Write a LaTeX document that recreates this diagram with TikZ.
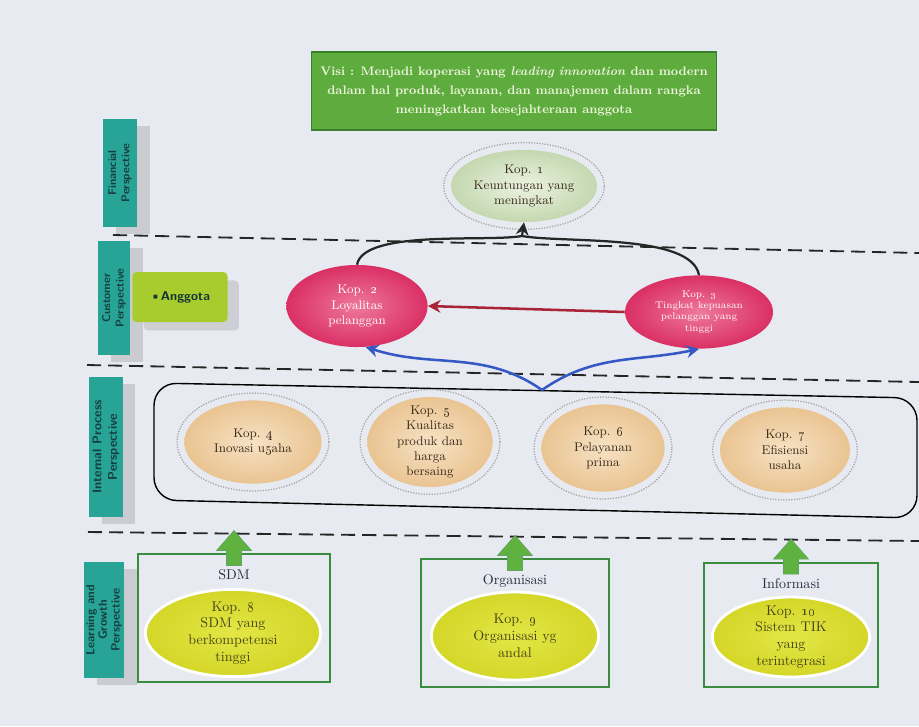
\documentclass[tikz,border=0pt]{standalone}
\usepackage{tikz}
\usetikzlibrary{arrows.meta,positioning,shapes.geometric,shadows,calc}

\definecolor{paper}{RGB}{231,234,241}
\definecolor{visigreen}{RGB}{94,172,62}
\definecolor{visiedge}{RGB}{58,128,42}
\definecolor{visitext}{RGB}{240,246,222}
\definecolor{persteal}{RGB}{40,164,150}
\definecolor{persdark}{RGB}{22,62,64}
\definecolor{anggreen}{RGB}{168,204,46}
\definecolor{boxgreen}{RGB}{58,140,62}
\definecolor{arrowgreen}{RGB}{96,178,64}
\definecolor{linkred}{RGB}{170,36,56}
\definecolor{linkblue}{RGB}{52,88,196}
\definecolor{kopdark}{RGB}{60,44,28}

\tikzset{
  persp/.style={fill=persteal, text=persdark, font=\sffamily\bfseries\footnotesize, align=center,
    rotate=90, inner sep=1pt, drop shadow={shadow xshift=9pt, shadow yshift=-5pt, fill=black!50, opacity=.28}},
  kop/.style={ellipse, inner sep=0pt, align=center, font=\small, text=kopdark},
  kopgreen/.style={kop, inner color={rgb,255:red,236;green,242;blue,226}, outer color={rgb,255:red,196;green,216;blue,176}},
  koppink/.style={kop, text=white, inner color={rgb,255:red,238;green,120;blue,158}, outer color={rgb,255:red,218;green,48;blue,100}},
  koppeach/.style={kop, inner color={rgb,255:red,246;green,226;blue,196}, outer color={rgb,255:red,234;green,196;blue,146}},
  kopyellow/.style={kop, font=\normalsize, text={rgb,255:red,70;green,70;blue,24}, inner ysep=-3pt,
    draw=white, line width=2pt, inner color={rgb,255:red,228;green,230;blue,70}, outer color={rgb,255:red,212;green,214;blue,40}},
  halo/.style={draw=black!35, densely dotted, line width=0.9pt},
  sep/.style={dash pattern=on 10pt off 5pt, line width=1.3pt, black!85},
  pillar/.style={draw=boxgreen, line width=1.3pt},
  pillartitle/.style={font=\normalsize, text={rgb,255:red,40;green,46;blue,64}},
  uparrow/.style={fill=arrowgreen, draw=boxgreen!80, line width=0.4pt},
  blk/.style={line width=1.6pt, black!85},
  blu/.style={->, line width=1.8pt, linkblue},
}

\begin{document}
\begin{tikzpicture}[x=0.025cm, y=-0.025cm, >={Stealth[length=9pt,width=9pt]}]
    \useasboundingbox[fill=paper] (0,0) rectangle (919,726);

    % separators between the perspectives
    \draw[sep] (113,235) -- (919,253);
    \draw[sep] (87,365) -- (919,382);
    \draw[sep] (88,532) -- (919,541);

    % perspective labels
    \node[persp, minimum width=2.68cm, minimum height=0.85cm] (fin) at (120,173) {Financial\\Perspective};
    \node[persp, minimum width=2.83cm, minimum height=0.8cm] (cust) at (114,298) {Customer\\Perspective};
    \node[persp, minimum width=3.5cm, minimum height=0.83cm, font=\sffamily\bfseries\small] (intp) at (106,447) {Internal Process\\Perspective};
    \node[persp, minimum width=2.9cm, minimum height=1cm, font=\sffamily\bfseries\fontsize{8.5}{9}\selectfont] (lgp) at (104,620) {Learning and\\Growth\\Perspective};
    \node[fill=anggreen, rounded corners=3pt, minimum width=2.38cm, minimum height=1.25cm,
      font=\sffamily\bfseries\small, text=persdark!80!black,
      drop shadow={shadow xshift=8pt, shadow yshift=-6pt, fill=black!50, opacity=.25}] (angg) at (180,297) {\textbullet Anggota};

    % vision
    \node[draw=visiedge, line width=0.8pt, fill=visigreen, text=visitext, align=center,
      font=\fontsize{8.8}{13.5}\selectfont\bfseries, minimum width=10.13cm, minimum height=1.95cm] (visi) at (514,91)
      {Visi : Menjadi koperasi yang \textit{leading innovation} dan modern\\
       dalam hal produk, layanan, dan manajemen dalam rangka\\
       meningkatkan kesejahteraan anggota};

    % financial and customer objectives
    \node[kopgreen, minimum width=3.65cm, minimum height=1.8cm] (k1) at (524,186) {Kop. \oldstylenums{1}\\Keuntungan yang\\meningkat};
    \node[koppink, minimum width=3.53cm, minimum height=2.05cm] (k2) at (357,306) {Kop. \oldstylenums{2}\\Loyalitas\\pelanggan};
    \node[koppink, minimum width=3.7cm, minimum height=1.83cm, font=\scriptsize] (k3) at (699,312) {Kop. \oldstylenums{3}\\Tingkat kepuasan\\pelanggan yang\\tinggi};

    % internal process objectives
    \draw[line width=1pt, rounded corners=16pt] (154,383) -- (917,398) -- (917,518) -- (154,500) -- cycle;
    \coordinate (ipr) at (542,390);
    \node[koppeach, minimum width=3.43cm, minimum height=2.08cm] (k4) at (253,442) {Kop. \oldstylenums{4}\\Inovasi u\oldstylenums{5}aha};
    \node[koppeach, minimum width=3.13cm, minimum height=2.25cm, inner ysep=-5pt] (k5) at (430,442) {Kop. \oldstylenums{5}\\Kualitas\\produk dan\\harga\\bersaing};
    \node[koppeach, minimum width=3.08cm, minimum height=2.18cm] (k6) at (603,448) {Kop. \oldstylenums{6}\\Pelayanan\\prima};
    \node[koppeach, minimum width=3.25cm, minimum height=2.13cm] (k7) at (785,450) {Kop. \oldstylenums{7}\\Efisiensi\\usaha};

    \foreach \k in {k1,k4,k5,k6,k7}
      \path let \p1=($(\k.east)-(\k.west)$), \p2=($(\k.north)-(\k.south)$) in
        [halo] (\k.center) ellipse ({0.5*\x1+5pt} and {0.5*\y2+5pt});

    % learning and growth
    \node[pillar, minimum width=4.8cm, minimum height=3.18cm] (sdm) at (234,618) {};
    \node[pillar, minimum width=4.68cm, minimum height=3.18cm] (org) at (515,623) {};
    \node[pillar, minimum width=4.33cm, minimum height=3.1cm] (inf) at (791,625) {};
    \node[pillartitle, below=0.28cm of sdm.north] (sdmt) {SDM};
    \node[pillartitle, below=0.28cm of org.north] (orgt) {Organisasi};
    \node[pillartitle, below=0.28cm of inf.north] (inft) {Informasi};
    \node[kopyellow, minimum width=4.38cm, minimum height=2.18cm] (k8) at (233,633) {Kop. \oldstylenums{8}\\SDM yang\\berkompetensi\\tinggi};
    \node[kopyellow, minimum width=4.18cm, minimum height=2.2cm] (k9) at (515,636) {Kop. \oldstylenums{9}\\Organisasi yg\\andal};
    \node[kopyellow, minimum width=3.93cm, minimum height=2cm] (k10) at (791,637) {Kop. \oldstylenums{10}\\Sistem TIK\\yang\\terintegrasi};
    \foreach \b in {sdm,org,inf}
      \draw[uparrow] (\b.north) +(-7.5,12) -- +(-7.5,-3) -- +(-17.5,-3) -- +(0,-23)
        -- +(17.5,-3) -- +(7.5,-3) -- +(7.5,12) -- cycle;

    % links
    \coordinate (join) at (522,236);
    \draw[blk] (k2.north) to[out=80, in=190, looseness=0.55] (join);
    \draw[blk] (k3.north) to[out=100, in=-10, looseness=0.6] (join);
    \draw[blk, ->] (join) -- (k1.south);
    \draw[->, line width=1.8pt, linkred] (k3.west) -- (k2.east);
    \draw[blu] (ipr) to[out=145, in=-18] (k2.-78);
    \draw[blu] (ipr) to[out=35, in=192] (k3.south);
\end{tikzpicture}
\end{document}
